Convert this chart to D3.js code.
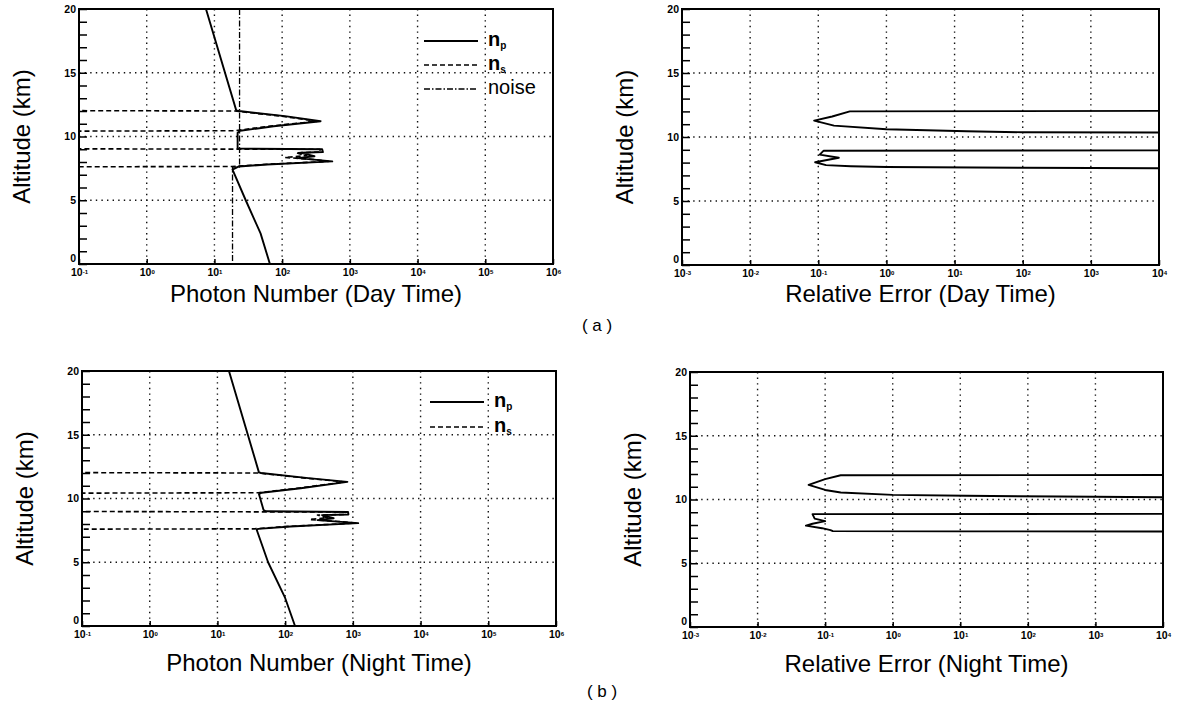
<!DOCTYPE html>
<html>
<head>
<meta charset="utf-8">
<script src="https://cdn.jsdelivr.net/npm/d3@7"></script>
<style>
  body { margin: 0; background: #fff; }
  svg { display: block; font-family: "Liberation Sans", Arial, Helvetica, sans-serif; }
</style>
</head>
<body>
<svg id="chart" width="1180" height="709"></svg>
<script>
// [altitude km, value]; 1e-3 / 1e6 = off the plotted range
const dayNp = [[20, 7.5], [12.05, 21], [12.0, 23], [11.6, 110], [11.2, 370], [10.8, 75], [10.45, 24],
  [10.3, 22], [9.05, 22], [9.0, 390], [8.78, 400], [8.72, 190], [8.45, 300], [8.3, 170], [8.05, 550],
  [7.8, 60], [7.65, 23], [7.4, 18.5], [5, 29], [2.4, 48], [0, 66]];
const dayNs = [[20, 1e-3], [12.05, 1e-3], [12.0, 20], [11.6, 95], [11.2, 330], [10.8, 62], [10.45, 20],
  [10.4, 1e-3], [9.05, 1e-3], [9.0, 360], [8.78, 370], [8.72, 160], [8.5, 230], [8.35, 110], [8.2, 300],
  [8.05, 480], [7.8, 50], [7.65, 18], [7.6, 1e-3], [0, 1e-3]];
const dayNoise = [[20, 23.5], [7.6, 23.5], [7.6, 18.5], [0, 18.5]];

const nightNp = [[20, 14.8], [12.05, 41], [12.0, 44], [11.6, 220], [11.3, 830], [10.8, 170], [10.45, 45],
  [10.35, 41], [9.1, 48], [9.0, 52], [8.94, 850], [8.75, 860], [8.7, 350], [8.45, 520], [8.3, 300],
  [8.07, 1200], [7.8, 120], [7.62, 40], [7.55, 38], [5, 56], [2.2, 100], [0, 140]];
const nightNs = [[20, 1e-3], [12.05, 1e-3], [12.0, 40], [11.6, 200], [11.3, 760], [10.8, 150], [10.45, 40],
  [10.4, 1e-3], [9.0, 1e-3], [8.94, 780], [8.75, 790], [8.7, 300], [8.5, 420], [8.35, 230], [8.2, 600],
  [8.07, 1100], [7.8, 100], [7.62, 35], [7.58, 1e-3], [0, 1e-3]];

const dayErr = [[20, 1e6], [12.06, 1e6], [12.0, 0.29], [11.6, 0.16], [11.28, 0.087], [10.89, 0.17],
  [10.6, 1], [10.45, 15], [10.37, 100], [10.35, 1e4], [10.33, 1e6], [8.96, 1e6], [8.93, 0.12],
  [8.62, 0.105], [8.38, 0.2], [8.03, 0.09], [7.8, 0.13], [7.72, 0.3], [7.66, 1], [7.6, 100],
  [7.56, 1e4], [7.53, 1e6], [0, 1e6]];
const nightErr = [[20, 1e6], [11.93, 1e6], [11.9, 0.17], [11.6, 0.1], [11.15, 0.057], [10.75, 0.1],
  [10.55, 0.17], [10.36, 1], [10.29, 12], [10.23, 290], [10.18, 1e4], [10.16, 1e6], [8.88, 1e6],
  [8.85, 0.065], [8.5, 0.07], [8.3, 0.1], [8.1, 0.065], [7.95, 0.052], [7.75, 0.09], [7.6, 0.12],
  [7.52, 0.13], [7.5, 10], [7.48, 1e6], [0, 1e6]];

const photonDecades = [-1, 0, 1, 2, 3, 4, 5, 6];
const errorDecades = [-3, -2, -1, 0, 1, 2, 3, 4];
const altLabels = [0, 5, 10, 15, 20];
const altMinor = d3.range(0, 21);

const svg = d3.select("#chart");
const dashes = { solid: null, dashed: "5,3", dashdot: "6,2,1.5,2" };

function drawPanel(p) {
  const x = d3.scaleLog().domain([10 ** p.decades[0], 10 ** p.decades[p.decades.length - 1]])
    .range([p.x0, p.x1]);
  const y = d3.scaleLinear().domain([0, 20]).range([p.y1, p.y0]);
  const g = svg.append("g");

  // dotted grid
  g.selectAll(null).data(p.decades.slice(1, -1)).enter().append("line")
    .attr("x1", d => x(10 ** d)).attr("x2", d => x(10 ** d))
    .attr("y1", p.y0).attr("y2", p.y1)
    .attr("stroke", "#111").attr("stroke-width", 1.4).attr("stroke-dasharray", "1.4,4.2");
  g.selectAll(null).data([5, 10, 15]).enter().append("line")
    .attr("x1", p.x0).attr("x2", p.x1)
    .attr("y1", d => y(d)).attr("y2", d => y(d))
    .attr("stroke", "#111").attr("stroke-width", 1.4).attr("stroke-dasharray", "1.4,4.2");

  // data curves
  const clipId = "clip" + p.id;
  svg.append("clipPath").attr("id", clipId).append("rect")
    .attr("x", p.x0).attr("y", p.y0).attr("width", p.x1 - p.x0).attr("height", p.y1 - p.y0);
  const line = d3.line().x(d => x(d[1])).y(d => y(d[0]));
  p.series.forEach(s => {
    g.append("path").datum(s.data)
      .attr("clip-path", `url(#${clipId})`)
      .attr("fill", "none").attr("stroke", "#000")
      .attr("stroke-width", s.width).attr("stroke-linejoin", "round")
      .attr("stroke-dasharray", dashes[s.style])
      .attr("d", line);
  });

  // frame
  g.append("rect").attr("x", p.x0).attr("y", p.y0)
    .attr("width", p.x1 - p.x0).attr("height", p.y1 - p.y0)
    .attr("fill", "none").attr("stroke", "#000").attr("stroke-width", 2);

  // y axis: inward minor ticks + labels
  g.append("g").attr("transform", `translate(${p.x0},0)`)
    .call(d3.axisLeft(y).tickValues(altMinor).tickSize(-8).tickFormat(""))
    .call(a => a.select(".domain").remove())
    .call(a => a.selectAll("line").attr("stroke", "#000").attr("stroke-width", 1.5));
  g.append("g").attr("transform", `translate(${p.x0},0)`)
    .call(d3.axisLeft(y).tickValues(altLabels).tickSize(0).tickPadding(3))
    .call(a => a.select(".domain").remove())
    .call(a => a.selectAll("text").attr("font-size", 10.5).attr("font-weight", "bold")
      .attr("fill", "#000").attr("font-family", "Liberation Sans, Arial, sans-serif")
      .attr("dy", d => d === 0 ? "-0.2em" : "0.32em"));

  // x axis: decade ticks with 10^n labels
  g.append("g").attr("transform", `translate(0,${p.y1})`)
    .call(d3.axisBottom(x).tickValues(p.decades.map(d => 10 ** d)).tickSize(-5).tickPadding(5).tickFormat(""))
    .call(a => a.select(".domain").remove())
    .call(a => a.selectAll("line").attr("stroke", "#000").attr("stroke-width", 1.5))
    .call(a => a.selectAll(".tick text").each(function (d) {
      const t = d3.select(this).attr("fill", "#000").attr("font-size", 10.5)
        .attr("font-weight", "bold").attr("font-family", "Liberation Sans, Arial, sans-serif");
      t.append("tspan").text("10");
      t.append("tspan").attr("dy", "-0.45em").attr("font-size", 6).text(Math.round(Math.log10(d)));
    }));

  // titles
  g.append("text").attr("x", (p.x0 + p.x1) / 2).attr("y", p.y1 + p.titleGap)
    .attr("text-anchor", "middle").attr("font-size", 24).text(p.xTitle);
  g.append("text")
    .attr("transform", `translate(${p.x0 - 49},${(p.y0 + p.y1) / 2}) rotate(-90)`)
    .attr("text-anchor", "middle").attr("font-size", 24).text("Altitude (km)");

  // legend
  if (p.legend) {
    p.legend.items.forEach((item, i) => {
      const ly = p.legend.y + i * p.legend.step;
      g.append("line").attr("x1", p.legend.x).attr("x2", p.legend.x + 54)
        .attr("y1", ly).attr("y2", ly)
        .attr("stroke", "#000").attr("stroke-width", item.style === "solid" ? 1.8 : 1.4)
        .attr("stroke-dasharray", dashes[item.style]);
      const t = g.append("text").attr("x", p.legend.x + 64).attr("y", ly + 5)
        .attr("font-size", 20).attr("fill", "#000");
      if (item.sub) {
        t.append("tspan").attr("font-weight", "bold").text(item.label);
        t.append("tspan").attr("dy", 3).attr("font-size", 10).attr("font-weight", "bold").text(item.sub);
      } else {
        t.text(item.label);
      }
    });
  }
}

drawPanel({
  id: "a1", x0: 79, x1: 553, y0: 9, y1: 264, decades: photonDecades, titleGap: 38,
  xTitle: "Photon Number (Day Time)",
  series: [
    { data: dayNoise, style: "dashdot", width: 1.3 },
    { data: dayNs, style: "dashed", width: 1.6 },
    { data: dayNp, style: "solid", width: 1.9 }
  ],
  legend: { x: 424, y: 41, step: 24, items: [
    { label: "n", sub: "p", style: "solid" },
    { label: "n", sub: "s", style: "dashed" },
    { label: "noise", style: "dashdot" }
  ] }
});
drawPanel({
  id: "a2", x0: 682, x1: 1159, y0: 9, y1: 265, decades: errorDecades, titleGap: 37,
  xTitle: "Relative Error (Day Time)",
  series: [{ data: dayErr, style: "solid", width: 1.9 }]
});
drawPanel({
  id: "b1", x0: 82, x1: 556, y0: 371, y1: 626, decades: photonDecades, titleGap: 45,
  xTitle: "Photon Number (Night Time)",
  series: [
    { data: nightNs, style: "dashed", width: 1.6 },
    { data: nightNp, style: "solid", width: 1.9 }
  ],
  legend: { x: 430, y: 402, step: 25, items: [
    { label: "n", sub: "p", style: "solid" },
    { label: "n", sub: "s", style: "dashed" }
  ] }
});
drawPanel({
  id: "b2", x0: 690, x1: 1163, y0: 372, y1: 627, decades: errorDecades, titleGap: 45,
  xTitle: "Relative Error (Night Time)",
  series: [{ data: nightErr, style: "solid", width: 1.9 }]
});

svg.append("text").attr("x", 597).attr("y", 331).attr("text-anchor", "middle")
  .attr("font-size", 17).attr("xml:space", "preserve").text("( a )");
svg.append("text").attr("x", 602).attr("y", 697).attr("text-anchor", "middle")
  .attr("font-size", 17).attr("xml:space", "preserve").text("( b )");
</script>
</body>
</html>
